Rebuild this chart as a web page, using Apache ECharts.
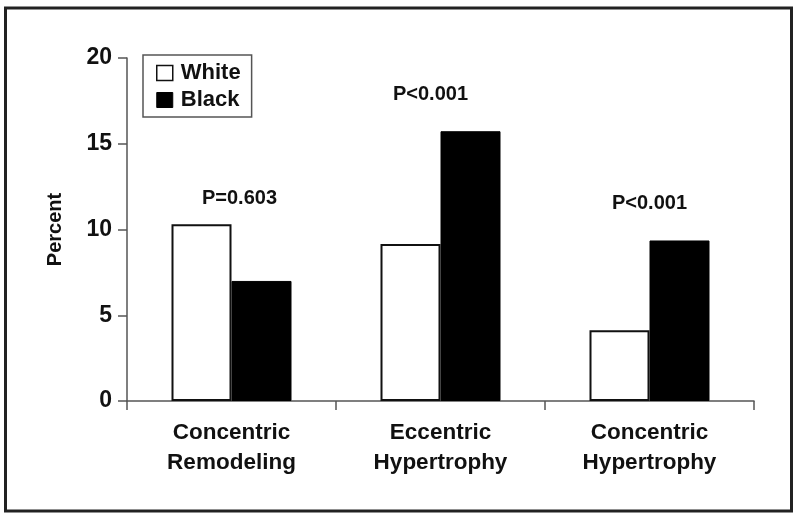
<!DOCTYPE html>
<html>
<head>
<meta charset="utf-8">
<script src="https://cdn.jsdelivr.net/npm/echarts@6/dist/echarts.min.js"></script>
<style>html,body{margin:0;padding:0;background:#fff;}#c{width:800px;height:520px;}</style>
</head>
<body>
<div id="c"></div>
<script>
const categories = ['Concentric\nRemodeling', 'Eccentric\nHypertrophy', 'Concentric\nHypertrophy'];
const whiteValues = [10.3, 9.15, 4.12];
const blackValues = [7.0, 15.73, 9.36];
const pLabels = ['P=0.603', 'P<0.001', 'P<0.001'];
const pLabelHeights = [11.8, 17.9, 11.5];
const yTicks = [0, 5, 10, 15, 20];

const FONT = '"Liberation Sans", Arial, sans-serif';
const pOffsets = [[8, 0], [-10, 0], [0, 0]];

const chart = echarts.init(document.getElementById('c'), null, {renderer: 'canvas'});
chart.setOption({
  animation: false,
  backgroundColor: '#fff',
  textStyle: {fontFamily: FONT},
  graphic: [{
    type: 'rect',
    shape: {x: 5.5, y: 8, width: 786, height: 503},
    style: {fill: null, stroke: '#222', lineWidth: 3},
    silent: true
  }],
  grid: {left: 127, right: 46, top: 58, bottom: 119, containLabel: false},
  legend: {
    orient: 'vertical',
    left: 143, top: 55,
    padding: [7, 11, 6, 13],
    itemGap: 5,
    itemWidth: 16, itemHeight: 15,
    borderColor: '#555', borderWidth: 1.5,
    icon: 'rect',
    textStyle: {fontFamily: FONT, fontWeight: 'bold', fontSize: 22, color: '#111', lineHeight: 22, padding: [0, 0, 0, 3]},
    data: [
      {name: 'White', itemStyle: {color: '#fff', borderColor: '#111', borderWidth: 1.5}},
      {name: 'Black', itemStyle: {color: '#000', borderColor: '#000', borderWidth: 1}}
    ]
  },
  xAxis: {
    type: 'category',
    data: categories,
    axisLine: {lineStyle: {color: '#555', width: 1.5}},
    axisTick: {show: true, length: 9, lineStyle: {color: '#555', width: 1.5}},
    axisLabel: {fontFamily: FONT, fontWeight: 'bold', fontSize: 22.5, color: '#111', lineHeight: 30, margin: 17}
  },
  yAxis: {
    type: 'value',
    min: 0, max: 20, interval: 5,
    name: 'Percent',
    nameLocation: 'middle',
    nameGap: 62,
    nameRotate: 90,
    nameTextStyle: {fontFamily: FONT, fontWeight: 'bold', fontSize: 20, color: '#111'},
    splitLine: {show: false},
    axisLine: {show: true, lineStyle: {color: '#555', width: 1.5}},
    axisTick: {show: true, length: 9, lineStyle: {color: '#555', width: 1.5}},
    axisLabel: {fontFamily: FONT, fontWeight: 'bold', fontSize: 23, color: '#111', margin: 15,
      formatter: v => yTicks.includes(v) ? String(v) : ''}
  },
  series: [
    {
      name: 'White', type: 'bar', data: whiteValues,
      barWidth: 60, barGap: '0%',
      itemStyle: {color: '#fff', borderColor: '#111', borderWidth: 2}
    },
    {
      name: 'Black', type: 'bar', data: blackValues,
      barWidth: 60, barGap: '0%',
      itemStyle: {color: '#000', borderColor: '#000', borderWidth: 1}
    },
    {
      name: 'pvals', type: 'scatter', symbolSize: 0, silent: true,
      itemStyle: {opacity: 1},
      data: pLabels.map((t, i) => ({
        value: [i, pLabelHeights[i]],
        label: {show: true, position: 'inside', formatter: t, offset: pOffsets[i],
          fontFamily: FONT, fontWeight: 'bold', fontSize: 20, color: '#111', opacity: 1}
      }))
    }
  ]
});
</script>
</body>
</html>
